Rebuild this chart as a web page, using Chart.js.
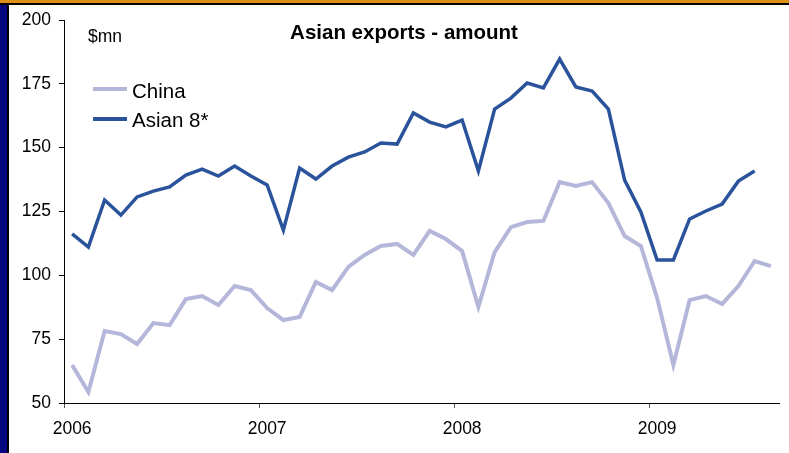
<!DOCTYPE html>
<html lang="en">
<head>
<meta charset="UTF-8" />
<title>Asian exports - amount</title>
<script src="https://cdn.jsdelivr.net/npm/chart.js"></script>
<style>
body { margin: 0; background: #fff; font-family: "Liberation Sans", Arial, sans-serif; }
#wrap { position: relative; width: 789px; height: 453px; overflow: hidden; }
#myChart { position: absolute; left: 0; top: 0; }
.navy { position: absolute; left: 0; top: 0; width: 7px; height: 453px; background: #06067e; }
.navyEdge { position: absolute; left: 7px; top: 0; width: 2px; height: 453px; background: #000; }
.orange { position: absolute; left: 0; top: 0; width: 789px; height: 3px; background: #dc9018; }
.orangeEdge { position: absolute; left: 0; top: 3px; width: 789px; height: 2px; background: #000; }
.txt { position: absolute; line-height: 1; color: #000; white-space: nowrap; }
.swatch { position: absolute; width: 34px; height: 4px; }
</style>
</head>
<body>
<div id="wrap">
<canvas id="myChart" width="789" height="453"></canvas>
<div class="navy"></div><div class="navyEdge"></div>
<div class="orange"></div><div class="orangeEdge"></div>
<div class="txt" style="left:404px; top:22px; font-size:20.5px; font-weight:bold; transform:translateX(-50%);">Asian exports - amount</div>
<div class="txt" style="left:88px; top:28px; font-size:17.5px;">$mn</div>
<div class="swatch" style="left:93px; top:87px; background:#b4b7d9;"></div>
<div class="txt" style="left:132px; top:81px; font-size:20.5px;">China</div>
<div class="swatch" style="left:93px; top:117px; background:#2a539b;"></div>
<div class="txt" style="left:132px; top:110px; font-size:20.5px;">Asian 8*</div>
</div>
<script>
// monthly, Jan 2006 - Aug 2009
const years = ["2006", "2007", "2008", "2009"];
const months = [];
years.forEach((y) => {
  for (let m = 1; m <= 12; m++) months.push(y + "-" + String(m).padStart(2, "0"));
});
const categories = months.slice(0, 44);

const china = [
  64.9, 54.3, 78.2, 77.0, 73.1, 81.3, 80.5, 90.7, 91.9, 88.4, 95.8, 94.2,
  87.2, 82.5, 83.7, 97.4, 94.2, 103.3, 108.0, 111.5, 112.3, 108.0, 117.4, 114.2,
  109.5, 87.6, 109.1, 118.9, 120.9, 121.3, 136.5, 135.0, 136.5, 128.3, 115.4, 111.5,
  91.1, 64.9, 90.3, 91.9, 88.8, 95.8, 105.6, 103.6
];
const asian8 = [
  116.2, 111.1, 129.5, 123.6, 130.7, 133.0, 134.6, 139.3, 141.6, 138.9, 142.8, 138.9,
  135.4, 117.7, 142.0, 137.7, 142.8, 146.3, 148.3, 151.8, 151.4, 163.6, 160.0, 158.1,
  160.8, 140.9, 165.1, 169.4, 175.3, 173.4, 184.7, 173.8, 172.2, 165.1, 137.3, 124.8,
  106.0, 106.0, 122.1, 125.2, 127.9, 136.9, 140.9
];
const yTicks = [50, 75, 100, 125, 150, 175, 200];

const font = { family: "'Liberation Sans', Arial, sans-serif", size: 17.5 };

const config = {
  type: "line",
  data: {
    labels: categories,
    datasets: [
      { label: "China", data: china, borderColor: "#b4b7d9", borderWidth: 4, pointRadius: 0, tension: 0 },
      { label: "Asian 8*", data: asian8, borderColor: "#2a539b", borderWidth: 3.5, pointRadius: 0, tension: 0 }
    ]
  },
  options: {
    responsive: false,
    animation: false,
    layout: { padding: { top: 20, right: 10, left: 0, bottom: 0 } },
    plugins: { legend: { display: false }, tooltip: { enabled: false } },
    scales: {
      x: {
        offset: true,
        grid: {
          offset: true,
          drawOnChartArea: false,
          tickLength: 5,
          tickColor: (ctx) => (ctx.index % 12 === 0 && ctx.index < categories.length ? "#555" : "rgba(0,0,0,0)")
        },
        border: { color: "#000", width: 1 },
        ticks: {
          autoSkip: false,
          maxRotation: 0,
          color: "#000",
          font,
          padding: 11,
          callback: (v, i) => (i % 12 === 0 ? years[i / 12] : "")
        },
        afterFit: (scale) => { scale.height = 50; }
      },
      y: {
        min: 50,
        max: 200,
        afterBuildTicks: (scale) => { scale.ticks = yTicks.map((v) => ({ value: v })); },
        grid: { drawOnChartArea: false, tickLength: 5, tickColor: "#000" },
        border: { color: "#000", width: 1 },
        ticks: { color: "#000", font, padding: 8 },
        afterFit: (scale) => { scale.width = 64; }
      }
    }
  }
};

new Chart(document.getElementById("myChart"), config);
</script>
</body>
</html>
